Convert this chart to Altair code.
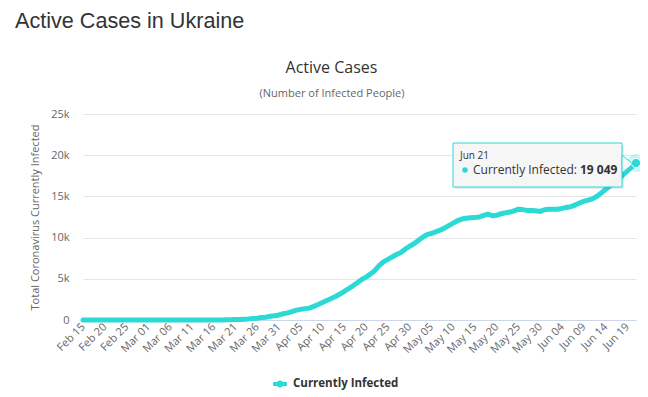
import altair as alt
import pandas as pd

# ---------------- data ----------------
header_text = "Active Cases in Ukraine"
title_text = "Active Cases"
subtitle_text = "(Number of Infected People)"
y_title = "Total Coronavirus Currently Infected"
series_name = "Currently Infected"
start_date = "2020-02-15"

# daily active cases, Feb 15 .. Jun 21
active = [
    0, 0, 0, 0, 0, 0, 0, 0, 0, 0, 0, 0, 0, 0, 0, 0, 0,          # Feb15-Mar02
    1, 1, 1, 1, 1, 1, 1, 1, 1, 2, 2, 2, 2,                       # Mar03-Mar15
    6, 13, 15, 25, 45, 68, 68, 105, 135, 190, 208, 295, 340,     # Mar16-Mar28
    455, 520, 615,                                               # Mar29-Mar31
    760, 860, 1030, 1200, 1290, 1380, 1440, 1650, 1880, 2120,    # Apr01-Apr10
    2360, 2600, 2860, 3150, 3480, 3800, 4150, 4520, 4920, 5200,  # Apr11-Apr20
    5560, 6000, 6600, 7050, 7350, 7650, 7950, 8200, 8600, 8950,  # Apr21-Apr30
    9250, 9650, 10050, 10350, 10500, 10700, 10900, 11150, 11450, 11750,  # May01-10
    12050, 12250, 12350, 12400, 12450, 12500, 12700, 12850, 12650, 12700,  # May11-20
    12900, 13000, 13100, 13250, 13450, 13400, 13300, 13280, 13250, 13180,  # May21-30
    13380,                                                       # May31
    13450, 13430, 13450, 13550, 13650, 13750, 13950, 14200, 14400, 14550,  # Jun01-10
    14700, 15000, 15400, 15850, 16250, 16650, 17050, 17600, 18100, 18550,  # Jun11-20
    19049,                                                       # Jun21
]
y_ticks = [0, 5000, 10000, 15000, 20000, 25000]
tick_every_days = 5
tooltip_date = "Jun 21"
tooltip_label = "Currently Infected:"
tooltip_value = "19 049"

teal = "#2bd9d5"

dates = pd.date_range(start_date, periods=len(active), freq="D")
df = pd.DataFrame({
    "date": dates.strftime("%Y-%m-%d"),
    "value": active,
    "series": series_name,
})
last = df.tail(1)

def ms(ts):
    return int(pd.Timestamp(ts).value // 10**6)

tick_values = [ms(d) for d in dates[::tick_every_days]]
x_domain = [ms(dates[0]), ms(dates[-1])]

x_enc = alt.X(
    "date:T",
    scale=alt.Scale(type="utc", domain=x_domain, nice=False),
    axis=alt.Axis(
        title=None, values=tick_values, format="%b %d", labelAngle=-45,
        labelAlign="right", labelBaseline="middle", labelPadding=5,
        labelFont="Open Sans", labelFontSize=11, labelColor="#666666",
        domainColor="#ccd6eb", domainWidth=1, ticks=False, grid=False,
        labelOverlap=False, labelFlush=False,
    ),
)
y_enc = alt.Y(
    "value:Q",
    scale=alt.Scale(domain=[0, 25000], nice=False),
    axis=alt.Axis(
        title=y_title, values=y_ticks,
        labelExpr="datum.value == 0 ? '0' : (datum.value / 1000) + 'k'",
        labelFont="Open Sans", labelFontSize=11, labelColor="#666666",
        labelPadding=14, ticks=False, domain=False,
        grid=True, gridColor="#e6e6e6", gridWidth=1,
        titleFont="Open Sans", titleFontSize=11, titleColor="#666666",
        titleFontWeight="normal", titleAngle=-90, titleX=-48, titleY=103,
        titleAlign="center", titleBaseline="middle",
    ),
)

legend_symbol = ("M-1,-0.29 L1,-0.29 L1,0.29 L-1,0.29 Z "
                 "M0.5,0 A0.5,0.5 0 1,1 -0.5,0 A0.5,0.5 0 1,1 0.5,0 Z")

line = alt.Chart(df).mark_line(
    strokeWidth=5, strokeCap="round", strokeJoin="round"
).encode(
    x=x_enc, y=y_enc,
    color=alt.Color(
        "series:N",
        scale=alt.Scale(domain=[series_name], range=[teal]),
        legend=alt.Legend(
            title=None, orient="none", legendX=190, legendY=263,
            symbolType=legend_symbol, symbolSize=196,
            symbolFillColor=teal, symbolStrokeColor=teal, symbolStrokeWidth=0,
            labelFont="Open Sans", labelFontSize=11.5, labelFontWeight="bold",
            labelColor="#333333", labelOffset=6, padding=0,
        ),
    ),
)

halo = alt.Chart(last).mark_circle(size=330, color=teal, opacity=0.25).encode(x=x_enc, y=y_enc)
dot = alt.Chart(last).mark_circle(size=85, color=teal, opacity=1,
                                  stroke="white", strokeWidth=1).encode(x=x_enc, y=y_enc)

one = pd.DataFrame({"k": [0]})
tip_shadow = alt.Chart(one).mark_rect(color="#000000", opacity=0.08).encode(
    x=alt.value(372), x2=alt.value(541), y=alt.value(31), y2=alt.value(75))
tip_box = alt.Chart(one).mark_rect(
    fill="#f7f7f7", fillOpacity=0.95, stroke=teal, strokeWidth=1
).encode(x=alt.value(370), x2=alt.value(539), y=alt.value(29), y2=alt.value(73))
tip_arrow = alt.Chart(one).mark_point(
    shape="M-0.6,-1 L0.6,0 L-0.6,1 Z", size=324, filled=True,
    fill="#f7f7f7", stroke=teal, strokeWidth=1, opacity=1
).encode(x=alt.value(544.4), y=alt.value(50))
tip_date = alt.Chart(one).mark_text(
    text=tooltip_date, font="Open Sans", fontSize=10, color="#333333",
    align="left", baseline="alphabetic"
).encode(x=alt.value(377), y=alt.value(45))
tip_dot = alt.Chart(one).mark_circle(size=30, color=teal, opacity=1).encode(
    x=alt.value(382), y=alt.value(56))
tip_label = alt.Chart(one).mark_text(
    text=tooltip_label, font="Open Sans", fontSize=12, color="#333333",
    align="left", baseline="alphabetic"
).encode(x=alt.value(390), y=alt.value(60))
tip_val = alt.Chart(one).mark_text(
    text=tooltip_value, font="Open Sans", fontSize=12, fontWeight="bold",
    color="#333333", align="left", baseline="alphabetic"
).encode(x=alt.value(497), y=alt.value(60))

header = alt.Chart(one).mark_text(
    text=header_text, font="Liberation Sans", fontSize=21.6, color="#333333",
    align="left", baseline="alphabetic"
).encode(x=alt.value(-68), y=alt.value(-86))
title = alt.Chart(one).mark_text(
    text=title_text, font="Open Sans", fontSize=16, color="#333333",
    align="center", baseline="alphabetic"
).encode(x=alt.value(248.5), y=alt.value(-41))
subtitle = alt.Chart(one).mark_text(
    text=subtitle_text, font="Open Sans", fontSize=11, color="#666666",
    align="center", baseline="alphabetic"
).encode(x=alt.value(249), y=alt.value(-17))

chart = alt.layer(
    line, halo, dot, tip_shadow, tip_box, tip_arrow, tip_date, tip_dot,
    tip_label, tip_val, header, title, subtitle
).properties(
    width=553, height=206,
    autosize=alt.AutoSizeParams(type="none"),
    padding={"left": 75, "top": 106, "right": 4, "bottom": 74},
    background="white",
).configure_view(stroke=None)

chart.save("out.html", embed_options={"renderer": "svg", "actions": False})
